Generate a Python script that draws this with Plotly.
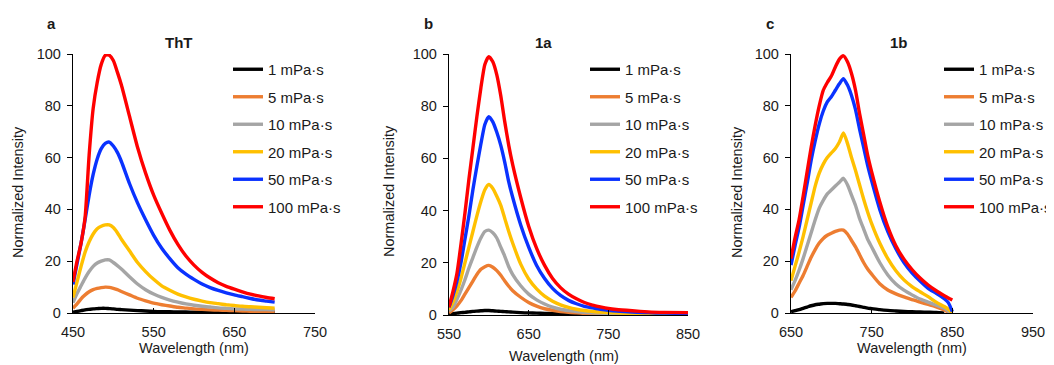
import plotly.graph_objects as go

# the page places the figure 8 px in from the window's top-left corner
OFF = 8
W, H = 1054 - OFF, 365 - OFF
FONT = "Liberation Sans, Arial, sans-serif"

series_names = ["1 mPa·s", "5 mPa·s", "10 mPa·s", "20 mPa·s", "50 mPa·s", "100 mPa·s"]
series_colors = ["#000000", "#ED7D31", "#A5A5A5", "#FFC000", "#0A32FF", "#FF0000"]

# ---- Panel a: ThT ----
wl_a = [450, 455, 460, 465, 470, 475, 480, 485, 490, 495, 500, 505, 510, 520, 530, 540,
        550, 560, 570, 580, 590, 600, 610, 620, 630, 640, 650, 660, 670, 680, 690, 700]
a_1 = [0.3, 0.6, 0.9, 1.2, 1.4, 1.6, 1.7, 1.8, 1.8, 1.7, 1.6, 1.4, 1.3, 1.1, 0.9, 0.8,
       0.6, 0.5, 0.5, 0.4, 0.4, 0.3, 0.3, 0.3, 0.3, 0.2, 0.2, 0.2, 0.2, 0.2, 0.2, 0.2]
a_5 = [1.8, 3.5, 5.5, 7.0, 8.2, 9.0, 9.5, 9.8, 10.0, 9.9, 9.5, 9.0, 8.3, 7.0, 5.7, 4.7,
       3.8, 3.2, 2.7, 2.2, 1.9, 1.6, 1.4, 1.2, 1.1, 1.0, 0.9, 0.8, 0.7, 0.7, 0.6, 0.6]
a_10 = [4.0, 7.5, 10.5, 13.5, 16.0, 18.0, 19.3, 20.0, 20.5, 20.5, 19.5, 18.3, 17.0, 14.0, 11.2, 9.0,
        7.3, 6.0, 5.0, 4.2, 3.5, 3.0, 2.6, 2.3, 2.0, 1.8, 1.6, 1.5, 1.4, 1.3, 1.3, 1.2]
a_20 = [6.0, 12.0, 18.0, 23.5, 27.5, 30.5, 32.5, 33.5, 34.0, 34.0, 33.0, 31.0, 28.5, 24.0, 19.5, 16.0,
        13.0, 10.5, 8.8, 7.3, 6.2, 5.3, 4.6, 4.0, 3.6, 3.2, 2.9, 2.6, 2.4, 2.2, 2.0, 1.9]
a_50 = [11.0, 19.0, 27.0, 36.0, 45.5, 53.5, 59.5, 63.5, 65.5, 66.0, 64.5, 62.0, 58.5, 50.0, 42.5, 36.0,
        30.0, 25.0, 21.0, 17.5, 15.0, 13.0, 11.2, 9.8, 8.7, 7.8, 7.0, 6.3, 5.6, 5.0, 4.6, 4.2]
a_100 = [12.0, 20.0, 27.0, 37.0, 61.0, 79.0, 89.0, 96.0, 99.5, 99.5, 97.5, 93.0, 88.0, 76.0, 64.0, 54.0,
         45.5, 38.5, 32.0, 26.5, 22.0, 18.5, 15.7, 13.5, 11.7, 10.3, 9.2, 8.2, 7.3, 6.6, 6.0, 5.5]

# ---- Panel b: 1a ----
wl_b = [550, 555, 560, 565, 570, 575, 580, 585, 590, 595, 600, 605, 610, 615, 620, 625, 630,
        640, 650, 660, 670, 680, 690, 700, 710, 720, 730, 740, 750, 760, 780, 800, 820, 850]
b_1 = [0.3, 0.5, 0.7, 0.9, 1.0, 1.2, 1.4, 1.5, 1.6, 1.7, 1.7, 1.6, 1.5, 1.4, 1.3, 1.2, 1.1,
       0.9, 0.8, 0.7, 0.6, 0.5, 0.5, 0.4, 0.4, 0.3, 0.3, 0.3, 0.3, 0.3, 0.2, 0.2, 0.2, 0.2]
b_5 = [0.8, 2.0, 3.5, 5.5, 8.0, 10.5, 13.0, 15.5, 17.5, 18.5, 19.0, 18.3, 17.0, 15.2, 13.0, 11.0, 9.3,
       6.8, 4.8, 3.4, 2.4, 1.8, 1.3, 1.0, 0.8, 0.6, 0.5, 0.4, 0.4, 0.3, 0.3, 0.3, 0.2, 0.2]
b_10 = [1.5, 3.0, 6.0, 9.5, 13.5, 18.0, 22.0, 26.0, 29.5, 32.0, 32.5, 31.5, 29.5, 26.0, 22.5, 18.5, 15.5,
        11.2, 8.0, 5.8, 4.2, 3.0, 2.2, 1.7, 1.3, 1.0, 0.8, 0.7, 0.6, 0.5, 0.4, 0.3, 0.3, 0.3]
b_20 = [2.0, 5.0, 9.0, 14.0, 20.0, 26.0, 32.0, 38.0, 43.5, 48.0, 50.0, 48.5, 45.5, 42.0, 37.0, 32.0, 27.5,
        19.5, 13.8, 10.0, 7.2, 5.3, 3.9, 2.9, 2.2, 1.7, 1.4, 1.1, 0.9, 0.8, 0.6, 0.5, 0.4, 0.4]
b_50 = [3.0, 7.5, 13.0, 20.0, 29.0, 38.0, 48.0, 57.0, 65.5, 73.0, 76.0, 74.0, 70.0, 65.0, 58.5, 51.0, 45.0,
        34.5, 26.0, 19.0, 14.0, 10.2, 7.5, 5.6, 4.3, 3.3, 2.7, 2.2, 1.8, 1.5, 1.1, 0.9, 0.7, 0.6]
b_100 = [3.0, 9.0, 16.0, 27.0, 39.0, 52.0, 64.0, 76.0, 87.0, 96.0, 99.0, 97.0, 92.0, 84.0, 74.0, 65.0, 57.5,
         45.0, 34.0, 25.5, 19.0, 14.0, 10.5, 8.0, 6.2, 4.8, 3.8, 3.1, 2.5, 2.1, 1.6, 1.2, 1.0, 0.9]

# ---- Panel c: 1b ----
wl_c = [650, 655, 660, 665, 670, 675, 680, 685, 690, 695, 700, 705, 710, 715, 720, 725, 730, 735,
        740, 745, 750, 760, 770, 780, 790, 800, 810, 820, 830, 840, 845, 850]
c_1 = [0.5, 0.9, 1.3, 1.8, 2.3, 2.8, 3.2, 3.4, 3.6, 3.7, 3.7, 3.7, 3.6, 3.5, 3.3, 3.1, 2.8, 2.5,
       2.2, 1.9, 1.7, 1.3, 1.0, 0.8, 0.6, 0.5, 0.4, 0.3, 0.2, 0.0, None, None]
c_5 = [6.0, 8.5, 11.5, 14.5, 18.0, 21.5, 24.5, 27.0, 28.8, 30.0, 30.8, 31.5, 32.0, 32.0, 30.5, 28.0, 25.5, 22.5,
       19.5, 17.0, 15.0, 11.3, 8.9, 7.4, 6.2, 5.2, 4.2, 3.3, 2.4, 1.2, 0.3, None]
c_10 = [9.0, 12.5, 16.5, 21.0, 26.0, 31.0, 36.0, 40.5, 43.5, 46.0, 47.5, 49.0, 50.5, 52.0, 49.5, 45.5, 41.5, 36.5,
        32.5, 28.5, 25.5, 19.5, 14.7, 11.2, 8.8, 7.0, 5.4, 4.2, 3.0, 1.8, 0.8, 0.0]
c_20 = [12.5, 18.0, 23.5, 29.5, 36.0, 42.5, 49.0, 54.0, 57.5, 60.0, 61.8, 63.5, 66.0, 69.5, 65.5, 60.0, 55.0, 49.5,
        44.0, 39.0, 34.5, 27.0, 21.0, 16.3, 12.8, 10.2, 8.2, 6.3, 4.2, 2.5, 1.5, 0.0]
c_50 = [18.5, 26.0, 33.0, 41.5, 50.0, 59.0, 66.5, 73.0, 78.0, 81.5, 83.5, 86.0, 88.5, 90.5, 88.0, 84.0, 78.5, 71.0,
        64.0, 57.0, 51.0, 40.0, 31.4, 24.8, 19.5, 15.5, 12.3, 9.5, 7.6, 5.5, 4.0, 0.5]
c_100 = [21.0, 29.0, 36.0, 45.0, 54.5, 64.0, 72.5, 80.0, 86.0, 89.0, 91.5, 95.0, 98.0, 99.3, 97.0, 92.5, 86.0, 77.0,
         69.0, 61.0, 54.5, 43.0, 33.3, 26.0, 20.8, 16.8, 13.5, 10.8, 8.6, 6.7, 5.8, 5.0]

panels = [
    dict(wl=wl_a, ys=[a_1, a_5, a_10, a_20, a_50, a_100], xrange=[450, 750], xticks=[450, 550, 650, 750]),
    dict(wl=wl_b, ys=[b_1, b_5, b_10, b_20, b_50, b_100], xrange=[550, 850], xticks=[550, 650, 750, 850]),
    dict(wl=wl_c, ys=[c_1, c_5, c_10, c_20, c_50, c_100], xrange=[650, 950], xticks=[650, 750, 850, 950]),
]
panel_letters = ["a", "b", "c"]
panel_titles = ["ThT", "1a", "1b"]
y_ticks = [0, 20, 40, 60, 80, 100]

# layout geometry (window pixels)
px_x = [(73, 315), (449, 688), (791, 1033)]
px_y = [(54, 313), (54, 315), (54, 313)]
legend_px = [(228, 53), (585, 53), (939, 53)]
letter_px = [(51, 24), (428, 24), (770, 24)]
title_px = [(179, 43), (543, 43), (899, 43)]
ytitle_px = [(18, 192), (389, 191), (737, 192)]
xtitle_px = [(194, 348), (564, 356), (912, 348)]


def fx(p):
    return (p - OFF) / W


def fy(p):
    return 1 - (p - OFF) / H


fig = go.Figure()
for i, pan in enumerate(panels):
    ax = "" if i == 0 else str(i + 1)
    leg = "legend" if i == 0 else "legend" + str(i + 1)
    for j, (name, col) in enumerate(zip(series_names, series_colors)):
        fig.add_trace(go.Scatter(
            x=pan["wl"], y=pan["ys"][j], mode="lines", name=name,
            line=dict(color=col, width=3.4, shape="spline", smoothing=0.6),
            xaxis="x" + ax, yaxis="y" + ax, legend=leg,
            legendgroup=f"p{i}s{j}", connectgaps=False,
        ))

layout = dict(
    width=W, height=H, margin=dict(l=0, r=0, t=0, b=0, pad=0, autoexpand=False),
    paper_bgcolor="white", plot_bgcolor="white",
    font=dict(family=FONT, size=14, color="#1a1a1a"),
    showlegend=True,
)
annotations = []
for i, pan in enumerate(panels):
    ax = "" if i == 0 else str(i + 1)
    x0, x1 = px_x[i]
    y0, y1 = px_y[i]
    layout["xaxis" + ax] = dict(
        domain=[fx(x0), fx(x1)], range=pan["xrange"], tickvals=pan["xticks"],
        anchor="y" + ax, showline=True, linecolor="black", linewidth=1.4,
        ticks="inside", ticklen=5, tickcolor="black", tickwidth=1.4,
        showgrid=False, zeroline=False, tickfont=dict(size=14.5, color="#1a1a1a"),
        ticklabelstandoff=5, automargin=False,
    )
    layout["yaxis" + ax] = dict(
        domain=[fy(y1), fy(y0)], range=[0, 100], tickvals=y_ticks,
        anchor="x" + ax, showline=True, linecolor="black", linewidth=1.4,
        ticks="outside", ticklen=5, tickcolor="black", tickwidth=1.4,
        showgrid=False, zeroline=False, tickfont=dict(size=14.5, color="#1a1a1a"),
        ticklabelstandoff=3, automargin=False,
    )
    leg = "legend" if i == 0 else "legend" + str(i + 1)
    lx, ly = legend_px[i]
    layout[leg] = dict(
        x=fx(lx), y=fy(ly), xanchor="left", yanchor="top",
        xref="paper", yref="paper",
        font=dict(size=15, color="#1a1a1a", family=FONT),
        traceorder="grouped", tracegroupgap=5, bgcolor="rgba(0,0,0,0)",
        borderwidth=0,
    )
    annotations.append(dict(text="<b>%s</b>" % panel_letters[i], x=fx(letter_px[i][0]), y=fy(letter_px[i][1]),
                            xref="paper", yref="paper", showarrow=False,
                            font=dict(size=15, color="#1a1a1a"), xanchor="center", yanchor="middle"))
    annotations.append(dict(text="<b>%s</b>" % panel_titles[i], x=fx(title_px[i][0]), y=fy(title_px[i][1]),
                            xref="paper", yref="paper", showarrow=False,
                            font=dict(size=15, color="#1a1a1a"), xanchor="center", yanchor="middle"))
    annotations.append(dict(text="Normalized Intensity", x=fx(ytitle_px[i][0]), y=fy(ytitle_px[i][1]),
                            xref="paper", yref="paper", showarrow=False, textangle=-90,
                            font=dict(size=14.5, color="#1a1a1a"), xanchor="center", yanchor="middle"))
    annotations.append(dict(text="Wavelength (nm)", x=fx(xtitle_px[i][0]), y=fy(xtitle_px[i][1]),
                            xref="paper", yref="paper", showarrow=False,
                            font=dict(size=14.5, color="#1a1a1a"), xanchor="center", yanchor="middle"))
layout["annotations"] = annotations
fig.update_layout(**layout)
fig.write_html("out.html")
